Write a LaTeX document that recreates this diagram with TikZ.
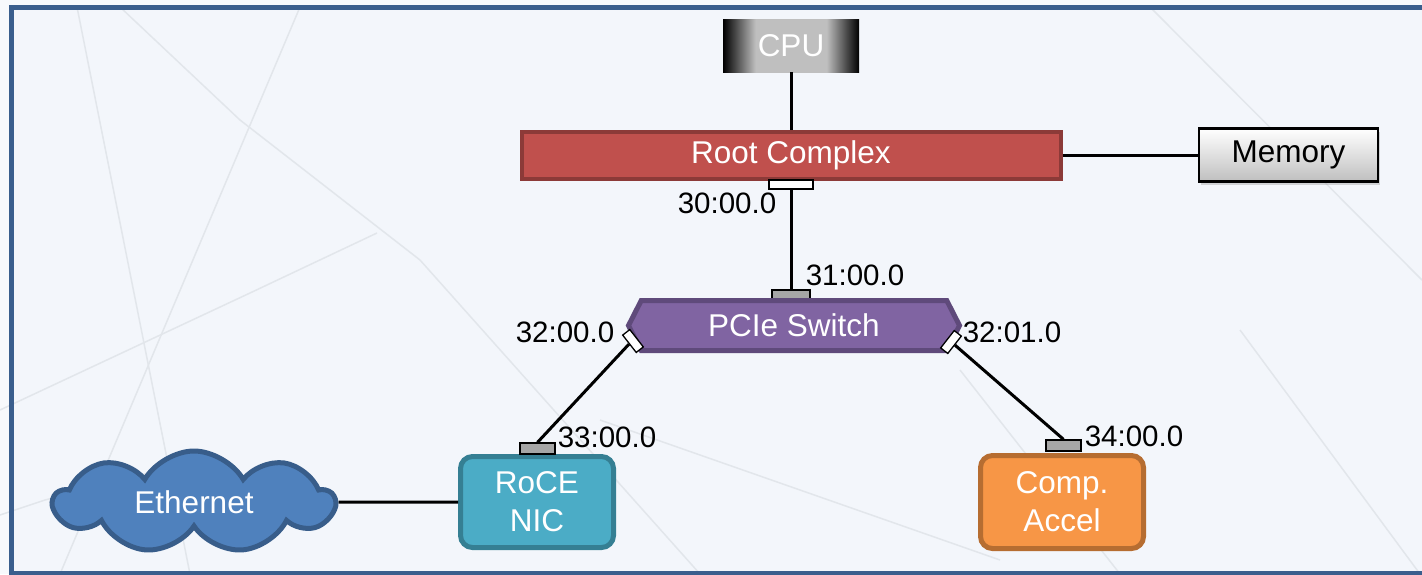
\documentclass[tikz,border=0pt]{standalone}
\usepackage{fontspec}
\setmainfont{Liberation Sans}
\usetikzlibrary{shapes.symbols, shadows, positioning}

\definecolor{bgblue}{HTML}{F3F6FB}
\definecolor{framecol}{HTML}{3A5E8D}
\definecolor{rootred}{HTML}{C0504D}
\definecolor{rootedge}{HTML}{8C3A38}
\definecolor{switchfill}{HTML}{8064A2}
\definecolor{switchedge}{HTML}{5F4A7B}
\definecolor{nicfill}{HTML}{4BACC6}
\definecolor{nicedge}{HTML}{357F93}
\definecolor{accelfill}{HTML}{F79646}
\definecolor{acceledge}{HTML}{B66D31}
\definecolor{cloudfill}{HTML}{4F81BD}
\definecolor{cloudedge}{HTML}{385D8A}
\definecolor{portgray}{HTML}{A6A6A6}
\definecolor{faint}{HTML}{E2E6EB}

\pgfdeclarehorizontalshading{cpushade}{100bp}{color(0bp)=(black); color(25bp)=(black);
  color(37bp)=(gray!50); color(63bp)=(gray!50); color(75bp)=(black); color(100bp)=(black)}

\begin{document}
\begin{tikzpicture}[
        x=1pt, y=-1pt,
        bigtext/.style={font=\fontsize{31.5}{38}\selectfont},
        cpubox/.style={rectangle, shading=cpushade, minimum width=136, minimum height=53, text=white, bigtext},
        rootbar/.style={rectangle, fill=rootred, draw=rootedge, line width=4, minimum width=539, minimum height=47, text=white, bigtext},
        membox/.style={rectangle, draw=black, line width=2.5, top color=white, bottom color=gray!50, minimum width=179, minimum height=53, bigtext,
            drop shadow={opacity=0.3, shadow xshift=2pt, shadow yshift=-3pt}},
        switchbox/.style={signal, signal to=east and west, signal pointer angle=126, fill=switchfill, draw=switchedge, line width=5,
            minimum width=331, minimum height=50, text=white, bigtext},
        devbox/.style={rectangle, rounded corners=12, line width=5, align=center, text=white, bigtext},
        netcloud/.style={cloud, cloud puffs=9, cloud puff arc=120, aspect=2.7, fill=cloudfill, draw=cloudedge, line width=5,
            minimum width=280, minimum height=102, text=white, bigtext},
        portw/.style={rectangle, draw=black, line width=1.3, fill=white, inner sep=0pt},
        portg/.style={rectangle, draw=black, line width=1.3, fill=portgray, inner sep=0pt},
        addr/.style={font=\fontsize{29.5}{34}\selectfont, inner sep=0pt},
        link/.style={line width=3, draw=black},
        bgline/.style={draw=faint, line width=1.5}
    ]
    \useasboundingbox (0,0) rectangle (1422,574);
    \fill[bgblue!70!white] (0,0) rectangle (1422,574);

    % --- fundo e moldura ---
    \fill[bgblue] (11.5,7.5) rectangle (1440,573);
    \draw[bgline] (77,7) -- (190,574);
    \draw[bgline] (300,7) -- (60,574);
    \draw[bgline] (120,7) -- (240,120) -- (420,260);
    \draw[bgline] (377,233) -- (250,293) -- (0,410);
    \draw[bgline] (0,515) -- (45,500) -- (160,470);
    \draw[bgline] (420,260) -- (700,574);
    \draw[bgline] (960,370) -- (1120,574);
    \draw[bgline] (1240,330) -- (1420,574);
    \draw[bgline] (1150,7) -- (1422,280);
    \draw[bgline] (600,420) -- (1000,560);
    \draw[framecol, line width=5] (11.5,580) -- (11.5,7.5) -- (1440,7.5);
    \draw[framecol, line width=5] (11.5,573.5) -- (1440,573.5);

    % --- CPU, Root Complex e memoria ---
    \node[cpubox] (cpu) at (791,45.5) {CPU};
    \node[rootbar] (root) at (791,155) {Root Complex};
    \node[membox] (mem) at (1288.5,155) {Memory};
    \draw[link] (cpu.south) -- (root.north);
    \draw[link] (root.east) -- (mem.west);

    % --- portas ---
    \node[portw, minimum width=44, minimum height=9] (p30) at (791,184.5) {};
    \node[portg, minimum width=38, minimum height=9] (p31) at (791,294.5) {};

    % --- switch ---
    \node[switchbox] (switch) at (794,325.5) {PCIe Switch};
    \node[portw, minimum width=22, minimum height=9, rotate=-52] (p32a) at (633,341) {};
    \node[portw, minimum width=22, minimum height=9, rotate=52] (p32b) at (951,342) {};
    \draw[link] (p30.south) -- (p31.north);

    % --- dispositivos ---
    \node[devbox, fill=nicfill, draw=nicedge, minimum width=153, minimum height=91] (nic) at (537,502) {RoCE\\NIC};
    \node[devbox, fill=accelfill, draw=acceledge, minimum width=163, minimum height=93] (accel) at (1062,502) {Comp.\\Accel};
    \node[portg, minimum width=35, minimum height=11] (p33) at (537.5,448.5) {};
    \node[portg, minimum width=35, minimum height=11] (p34) at (1063.5,445.5) {};
    \draw[link] (p32a.south) -- (p33.north);
    \draw[link] (p32b.south) -- (p34.north);

    \node[netcloud] (eth) at (194,502) {Ethernet};
    \draw[link] (eth.east) -- (nic.west);

    % --- enderecos ---
    \node[addr] (l30) at (727,203) {30:00.0};
    \node[addr] (l31) at (855,275) {31:00.0};
    \node[addr] (l32a) at (565,332) {32:00.0};
    \node[addr] (l32b) at (1012,332) {32:01.0};
    \node[addr] (l33) at (607,437) {33:00.0};
    \node[addr] (l34) at (1134,436) {34:00.0};
\end{tikzpicture}
\end{document}
